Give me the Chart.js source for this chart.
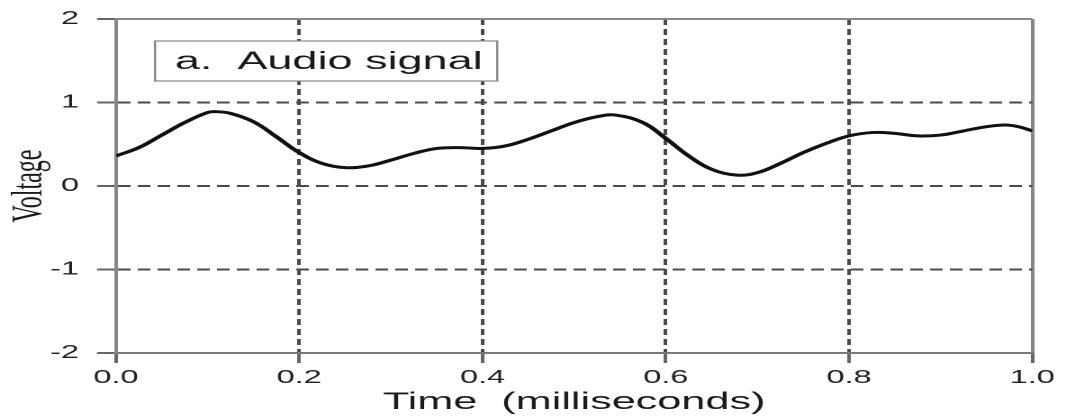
<!DOCTYPE html>
<html>
<head>
<meta charset="utf-8">
<script src="https://cdn.jsdelivr.net/npm/chart.js@4.4.1/dist/chart.umd.min.js"></script>
<style>
    html, body { margin: 0; padding: 0; background: #fff; overflow: hidden; }
    /* the original figure is stretched sideways, so the chart is drawn narrow and scaled in x */
    #wrap {
        position: absolute; left: 0; top: 0;
        width: 592px; height: 418px;
        transform: scaleX(1.8007); transform-origin: 0 0;
    }
</style>
</head>
<body>
<div id="wrap"><canvas id="myChart"></canvas></div>
<script>
'use strict'

// time in milliseconds
let timeMs = [
    0.000, 0.025, 0.050, 0.075, 0.100, 0.110, 0.125, 0.150, 0.175, 0.200,
    0.225, 0.250, 0.275, 0.300, 0.325, 0.350, 0.375, 0.400, 0.425, 0.450,
    0.475, 0.500, 0.525, 0.545, 0.575, 0.600, 0.625, 0.650, 0.678, 0.700,
    0.725, 0.750, 0.775, 0.800, 0.825, 0.850, 0.875, 0.900, 0.925, 0.950,
    0.970, 0.985, 1.000
];

// voltage
let voltage = [
    0.36, 0.46, 0.61, 0.76, 0.88, 0.89, 0.87, 0.77, 0.59, 0.40,
    0.27, 0.22, 0.24, 0.31, 0.39, 0.45, 0.46, 0.45, 0.48, 0.56,
    0.66, 0.76, 0.83, 0.85, 0.76, 0.57, 0.36, 0.20, 0.13, 0.16,
    0.27, 0.40, 0.51, 0.60, 0.64, 0.63, 0.60, 0.61, 0.66, 0.71,
    0.73, 0.71, 0.66
];

let xTicks = [0, 0.2, 0.4, 0.6, 0.8, 1.0];
let yTicks = [-2, -1, 0, 1, 2];
let legendText = 'a.  Audio signal';

let points = [];
for (let i = 0; i < timeMs.length; i++) {
    points.push({ x: timeMs[i], y: voltage[i] });
}

function isEdge(ctx, lo, hi) {
    return ctx.tick && (Math.abs(ctx.tick.value - lo) < 1e-9 || Math.abs(ctx.tick.value - hi) < 1e-9);
}

// white box with the signal name, top left of the plot
const labelBox = {
    id: 'labelBox',
    afterDatasetsDraw(chart) {
        const ctx = chart.ctx;
        const area = chart.chartArea;
        const left = area.left + 21.7;
        const top = area.top + 22;
        const w = 190;
        const h = 40;
        ctx.save();
        ctx.fillStyle = '#fff';
        ctx.fillRect(left, top, w, h);
        ctx.strokeStyle = '#888';
        ctx.lineWidth = 1.2;
        ctx.strokeRect(left, top, w, h);
        ctx.fillStyle = '#1a1a1a';
        ctx.font = '25px "Liberation Sans", Arial, sans-serif';
        ctx.textBaseline = 'middle';
        ctx.fillText(legendText, left + 11, top + h / 2 + 1);
        ctx.restore();
    }
};

const ctx = document.getElementById('myChart').getContext('2d');
const myChart = new Chart(ctx, {
    type: 'line',
    data: {
        datasets: [{
            label: 'Audio signal',
            data: points,
            borderColor: '#111',
            borderWidth: 3,
            pointRadius: 0,
            fill: false,
            tension: 0.4
        }]
    },
    options: {
        responsive: true,
        maintainAspectRatio: false,
        animation: false,
        devicePixelRatio: 2,
        layout: { padding: { left: 0, right: 18.7, top: 18, bottom: 0 } },
        plugins: {
            legend: { display: false },
            tooltip: { enabled: false }
        },
        scales: {
            x: {
                type: 'linear',
                min: 0,
                max: 1,
                afterFit: (scale) => { scale.height = 65; },
                afterBuildTicks: (scale) => { scale.ticks = xTicks.map(v => ({ value: v })); },
                ticks: {
                    callback: (v) => Number(v).toFixed(1),
                    color: '#222',
                    padding: 4,
                    maxRotation: 0,
                    font: { family: '"Liberation Sans", Arial, sans-serif', size: 18 }
                },
                grid: {
                    color: (c) => isEdge(c, 0, 1) ? '#888' : '#4a4a4a',
                    lineWidth: 2,
                    tickLength: 10,
                    tickColor: '#666'
                },
                border: {
                    color: '#777',
                    width: 1.6,
                    dash: (c) => isEdge(c, 0, 1) ? [] : [6, 4]
                },
                title: {
                    display: true,
                    text: 'Time  (milliseconds)',
                    color: '#1a1a1a',
                    padding: { top: 0, bottom: 1 },
                    font: { family: '"Liberation Sans", Arial, sans-serif', size: 24, lineHeight: 1.2 }
                }
            },
            y: {
                type: 'linear',
                min: -2,
                max: 2,
                afterFit: (scale) => { scale.width = 64.4; },
                afterBuildTicks: (scale) => { scale.ticks = yTicks.map(v => ({ value: v })); },
                ticks: {
                    color: '#222',
                    padding: 10,
                    font: { family: '"Liberation Sans", Arial, sans-serif', size: 18, lineHeight: 1.0 }
                },
                grid: {
                    color: (c) => isEdge(c, -2, 2) ? '#888' : '#4a4a4a',
                    lineWidth: 2,
                    tickLength: 10.5,
                    tickColor: '#666'
                },
                border: {
                    color: '#888',
                    width: 2,
                    dash: (c) => isEdge(c, -2, 2) ? [] : [7, 4]
                },
                title: {
                    display: true,
                    text: 'Voltage',
                    color: '#1a1a1a',
                    padding: { top: 2.3, bottom: 0 },
                    font: { family: '"Liberation Serif", "Times New Roman", serif', size: 24, lineHeight: 1.2 }
                }
            }
        }
    },
    plugins: [labelBox]
});
</script>
</body>
</html>
